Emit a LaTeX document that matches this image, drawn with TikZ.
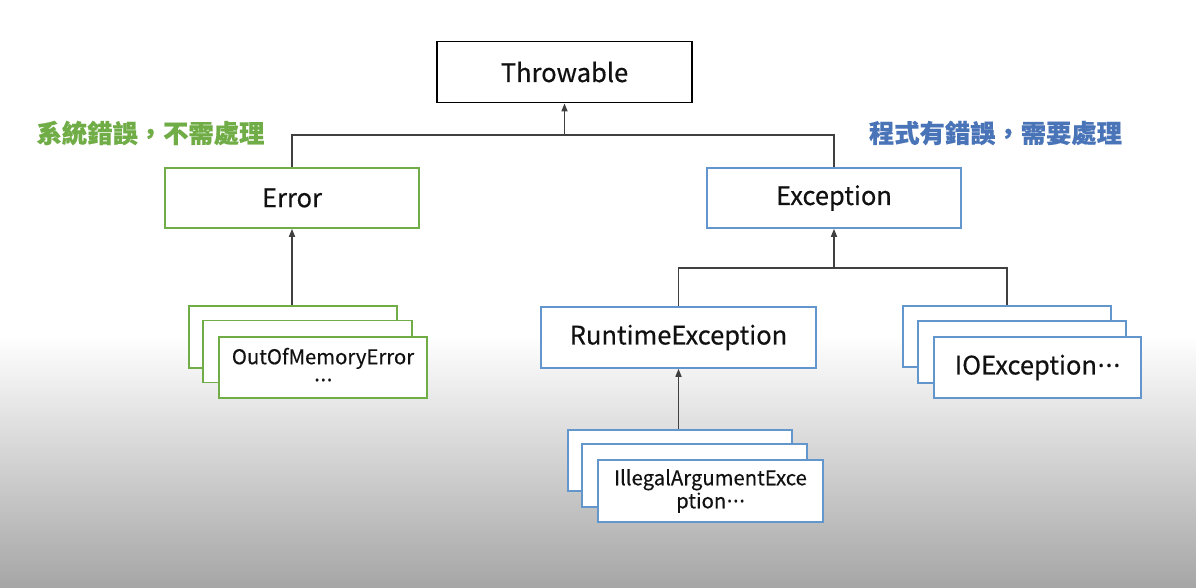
\documentclass[tikz,border=0pt]{standalone}
\usepackage{fontspec}
\setmainfont{Noto Sans CJK TC}[FakeBold=0.4]
\newfontfamily\dotfont{Noto Sans}[FakeBold=0.4]
\usetikzlibrary{arrows.meta}
\definecolor{grn}{HTML}{70AD47}
\definecolor{blu}{HTML}{6496CE}
\definecolor{blutxt}{HTML}{4A74B8}
\definecolor{lin}{HTML}{404040}
\definecolor{txt}{HTML}{111111}
\definecolor{bggray}{HTML}{A6A6A6}
\newcommand{\mdots}{{\dotfont\kern0.03em·\kern0.04em·\kern0.04em·}}
\tikzset{
  box/.style={draw, line width=1.6pt, fill=white, inner sep=0pt, text=txt, font=\fontsize{25.5}{30}\selectfont, align=center},
  gbox/.style={box, draw=grn},
  bbox/.style={box, draw=blu},
  kbox/.style={box, draw=black, line width=1.8pt},
  small/.style={font=\fontsize{20.3}{23}\selectfont},
  conn/.style={draw=lin, line width=1.5pt},
  arr/.style={conn, -{Triangle[width=6pt,length=8pt]}},
  lbl/.style={font=\fontsize{25.3}{30}\selectfont\bfseries, inner sep=0pt}
}
\begin{document}
\begin{tikzpicture}[x=1pt,y=-1pt]
\useasboundingbox (0,0) rectangle (1196,587);
\fill[white] (0,0) rectangle (1196,336);
\shade[top color=white, bottom color=bggray] (0,335) rectangle (1196,587);

\node[kbox, minimum width=255pt, minimum height=61pt] (thr) at (564.5,72) {Throwable};
\node[gbox, minimum width=254pt, minimum height=60pt] (err) at (292,198) {Error};
\node[bbox, minimum width=254pt, minimum height=60pt] (exc) at (834,198) {Exception};
\node[bbox, minimum width=275pt, minimum height=61pt] (rte) at (678.5,337.5) {RuntimeException};

\node[gbox, minimum width=208pt, minimum height=62pt] (oom3) at (293,337) {};
\node[gbox, minimum width=209pt, minimum height=62pt] (oom2) at (307.5,351.5) {};
\node[gbox, small, minimum width=208pt, minimum height=61pt] (oom1) at (323,367.5) {OutOfMemoryError\\\mdots};

\node[bbox, minimum width=208pt, minimum height=61pt] (io3) at (1007,336.5) {};
\node[bbox, minimum width=208pt, minimum height=62pt] (io2) at (1022,352) {};
\node[bbox, minimum width=207pt, minimum height=61pt] (io1) at (1037.5,367.5) {IOException\mdots};

\node[bbox, minimum width=224pt, minimum height=61pt] (il3) at (680,460.5) {};
\node[bbox, minimum width=225pt, minimum height=63pt] (il2) at (694.5,475.5) {};
\node[bbox, small, minimum width=225pt, minimum height=62pt] (il1) at (710.5,491) {IllegalArgumentExce\\ption\mdots};

\node[lbl, text=grn] (lg) at (150.5,133) {系統錯誤，不需處理};
\node[lbl, text=blutxt] (lb) at (995.5,133) {程式有錯誤，需要處理};

\coordinate (j1) at (564.5,135);
\coordinate (j2) at (834,268);
\draw[conn] (err.north) |- (j1) -| (exc.north);
\draw[arr] (j1) -- (thr.south);
\draw[arr] (err.south |- oom3.north) -- (err.south);
\draw[conn] (rte.north) |- (j2) -| (io3.north);
\draw[arr] (j2) -- (exc.south);
\draw[arr] (rte.south |- il3.north) -- (rte.south);
\end{tikzpicture}
\end{document}
